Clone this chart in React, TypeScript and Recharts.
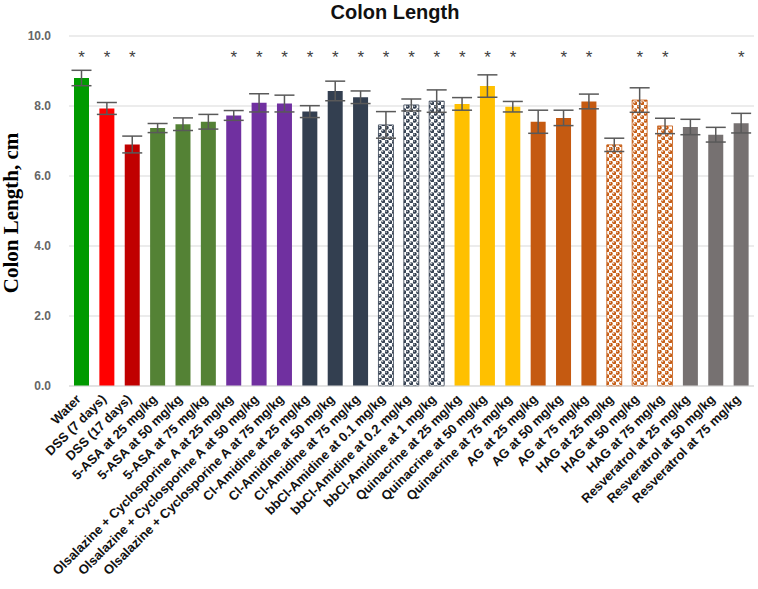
import React from 'react';
import {
  ComposedChart,
  Bar,
  Line,
  Cell,
  ErrorBar,
  XAxis,
  YAxis,
  CartesianGrid,
  Label,
} from 'recharts';

const categories = [
  'Water',
  'DSS (7 days)',
  'DSS (17 days)',
  '5-ASA at 25 mg/kg',
  '5-ASA at 50 mg/kg',
  '5-ASA at 75 mg/kg',
  'Olsalazine + Cyclosporine A at 25 mg/kg',
  'Olsalazine + Cyclosporine A at 50 mg/kg',
  'Olsalazine + Cyclosporine A at 75 mg/kg',
  'Cl-Amidine at 25 mg/kg',
  'Cl-Amidine at 50 mg/kg',
  'Cl-Amidine at 75 mg/kg',
  'bbCl-Amidine at 0.1 mg/kg',
  'bbCl-Amidine at 0.2 mg/kg',
  'bbCl-Amidine at 1 mg/kg',
  'Quinacrine at 25 mg/kg',
  'Quinacrine at 50 mg/kg',
  'Quinacrine at 75 mg/kg',
  'AG at 25 mg/kg',
  'AG at 50 mg/kg',
  'AG at 75 mg/kg',
  'HAG at 25 mg/kg',
  'HAG at 50 mg/kg',
  'HAG at 75 mg/kg',
  'Resveratrol at 25 mg/kg',
  'Resveratrol at 50 mg/kg',
  'Resveratrol at 75 mg/kg',
];

const colonLength = [
  8.8, 7.93, 6.9, 7.37, 7.48, 7.55, 7.73, 8.09, 8.07, 7.84, 8.43, 8.25, 7.46, 8.03, 8.14,
  8.06, 8.57, 7.98, 7.55, 7.66, 8.13, 6.89, 8.17, 7.43, 7.4, 7.18, 7.51,
];

const sem = [
  0.22, 0.17, 0.24, 0.13, 0.18, 0.21, 0.14, 0.26, 0.24, 0.17, 0.28, 0.18, 0.38, 0.17, 0.32,
  0.18, 0.32, 0.15, 0.33, 0.22, 0.21, 0.19, 0.35, 0.22, 0.22, 0.21, 0.28,
];

const significant = [
  true, true, true, false, false, false, true, true, true, true, true, true, true, true, true,
  true, true, true, false, true, true, false, true, true, false, false, true,
];

// asterisk row sits at this value on the y scale
const STAR_LEVEL = 9.5;
const yTicks = [0, 2, 4, 6, 8, 10];

// one fill per bar, patterns for bbCl-Amidine and HAG
const barFills = [
  '#009a00',
  '#ff0000',
  '#c00000',
  '#548235', '#548235', '#548235',
  '#7030a0', '#7030a0', '#7030a0',
  '#333f50', '#333f50', '#333f50',
  'url(#dotsNavy)', 'url(#dotsNavy)', 'url(#dotsNavy)',
  '#ffc000', '#ffc000', '#ffc000',
  '#c55a11', '#c55a11', '#c55a11',
  'url(#dotsOrange)', 'url(#dotsOrange)', 'url(#dotsOrange)',
  '#767171', '#767171', '#767171',
];

const data = categories.map((name, i) => ({
  name,
  value: colonLength[i],
  err: sem[i],
  star: significant[i] ? STAR_LEVEL : null,
}));

const CategoryTick = ({ x, y, payload }: any) => {
  const ty = y + 6;
  return (
    <text
      x={x}
      y={ty}
      transform={`rotate(-45, ${x}, ${ty})`}
      textAnchor="end"
      fontSize={13}
      fontWeight="bold"
      fill="#111"
      fontFamily="'Liberation Sans', Arial, sans-serif"
    >
      {payload.value}
    </text>
  );
};

const Star = (props: any) => {
  const { cx, cy, payload, index } = props;
  if (payload.star == null || cy == null) return <g key={`s${index}`} />;
  return (
    <text
      key={`s${index}`}
      x={cx}
      y={cy + 9}
      textAnchor="middle"
      fontSize={17}
      fill="#404040"
      fontFamily="'Liberation Sans', Arial, sans-serif"
    >
      *
    </text>
  );
};

const YTitle = ({ viewBox }: any) => {
  const cy = viewBox.y + viewBox.height / 2 + 2;
  return (
    <text
      x={18}
      y={cy}
      transform={`rotate(-90, 18, ${cy})`}
      textAnchor="middle"
      fontSize={21}
      fontWeight="bold"
      fill="#000"
      fontFamily="'Liberation Serif', 'Times New Roman', serif"
    >
      Colon Length, cm
    </text>
  );
};

function DotPattern({ id, color }: { id: string; color: string }) {
  return (
    <pattern id={id} patternUnits="userSpaceOnUse" width={7} height={7}>
      <rect width={7} height={7} fill="#fff" />
      <circle cx={1.75} cy={1.75} r={2} fill={color} />
      <circle cx={5.25} cy={5.25} r={2} fill={color} />
      <circle cx={1.2} cy={1.2} r={0.6} fill="#fff" />
      <circle cx={4.7} cy={4.7} r={0.6} fill="#fff" />
    </pattern>
  );
}

export default function App() {
  return (
    <div style={{ position: 'absolute', left: 0, top: 0, width: 758, height: 589, background: '#fff' }}>
      <div
        style={{
          position: 'absolute',
          left: 0,
          width: 790,
          top: 1,
          textAlign: 'center',
          fontFamily: "'Liberation Sans', Arial, sans-serif",
          fontWeight: 'bold',
          fontSize: 20,
          lineHeight: '22px',
          color: '#111',
        }}
      >
        Colon Length
      </div>
      <ComposedChart
        width={758}
        height={589}
        data={data}
        margin={{ top: 36, right: 4, bottom: 23, left: 0 }}
      >
        <defs>
          <DotPattern id="dotsNavy" color="#333f50" />
          <DotPattern id="dotsOrange" color="#c55a11" />
        </defs>
        <CartesianGrid vertical={false} stroke="#d9d9d9" />
        <XAxis
          dataKey="name"
          interval={0}
          height={180}
          tickLine={false}
          axisLine={{ stroke: '#d9d9d9' }}
          tick={<CategoryTick />}
        />
        <YAxis
          width={69}
          domain={[0, 10]}
          ticks={yTicks}
          axisLine={false}
          tickLine={false}
          tickMargin={12}
          tickFormatter={(v: number) => v.toFixed(1)}
          tick={{
            fill: '#666',
            fontSize: 12,
            fontWeight: 'bold',
            fontFamily: "'Liberation Sans', Arial, sans-serif",
          }}
        >
          <Label content={<YTitle />} />
        </YAxis>
        <Bar dataKey="value" barSize={15} isAnimationActive={false}>
          {data.map((d, i) => (
            <Cell
              key={d.name}
              fill={barFills[i]}
              stroke={barFills[i].startsWith('url') ? (i < 15 ? '#333f50' : '#c55a11') : 'none'}
              strokeWidth={0.8}
            />
          ))}
          <ErrorBar dataKey="err" width={10} stroke="#595959" strokeWidth={1.5} />
        </Bar>
        <Line
          dataKey="star"
          stroke="none"
          dot={Star}
          activeDot={false}
          legendType="none"
          isAnimationActive={false}
        />
      </ComposedChart>
    </div>
  );
}
